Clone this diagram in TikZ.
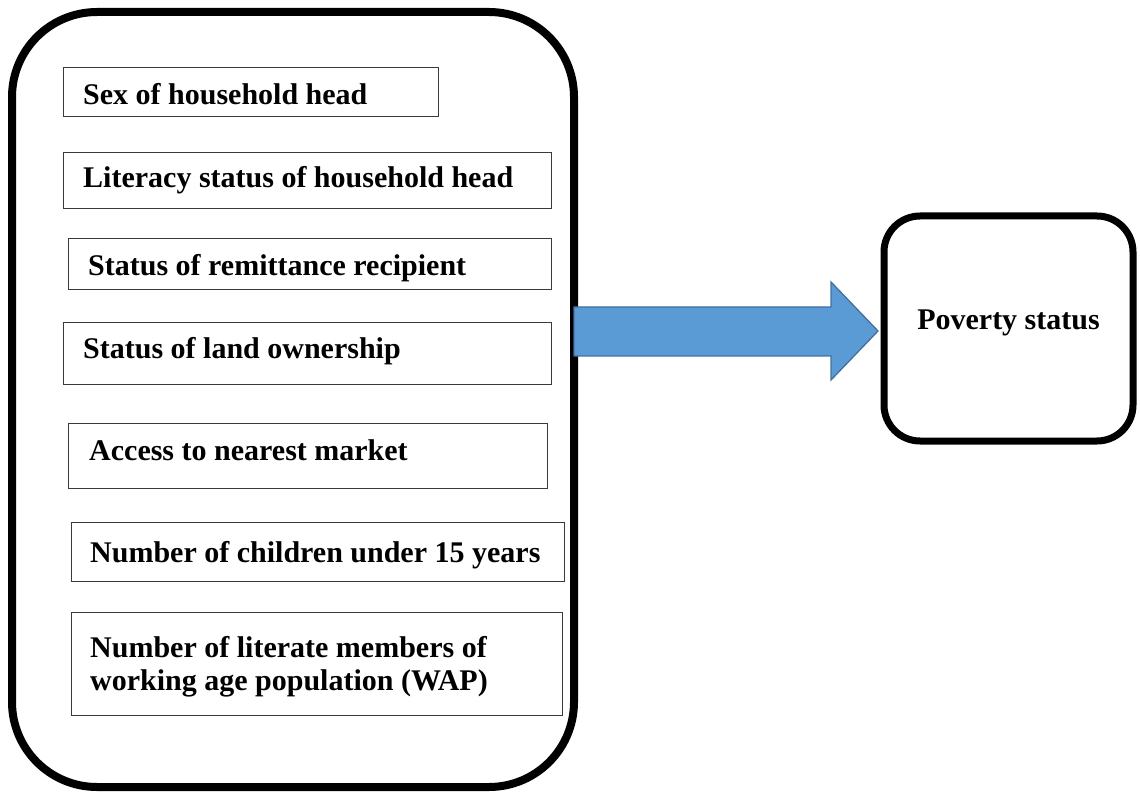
\documentclass[tikz,border=0pt]{standalone}
\usepackage{fontspec}
\setmainfont{Liberation Serif}
\usetikzlibrary{calc}
\definecolor{arrowfill}{HTML}{5B9BD5}
\definecolor{arrowline}{HTML}{41719C}
\definecolor{boxline}{HTML}{3A3A3A}
\begin{document}
\begin{tikzpicture}[x=1pt,y=-1pt,
  outerbox/.style={draw=black,line width=8pt,rounded corners=85pt},
  povbox/.style={draw=black,line width=7pt,rounded corners=36pt},
  ibox/.style={draw=boxline,line width=1.3pt,inner sep=0pt,anchor=north west},
  lbl/.style={inner sep=0pt,anchor=base west,font=\fontsize{30}{34}\selectfont\bfseries},
  blockarrow/.style={fill=arrowfill,draw=arrowline,line width=1.3pt,line join=miter}]
\useasboundingbox (0,0) rectangle (1140,799);
% outer container
\draw[outerbox] (12,12) rectangle (574,787);
\coordinate (bigE) at (574,331);
% inner boxes
\node[ibox,minimum width=375pt,minimum height=49pt] (b1) at (63,67) {};
\node[ibox,minimum width=488pt,minimum height=56pt] (b2) at (63,152) {};
\node[ibox,minimum width=483pt,minimum height=51pt] (b3) at (68,238) {};
\node[ibox,minimum width=488pt,minimum height=62pt] (b4) at (63,322) {};
\node[ibox,minimum width=479pt,minimum height=65pt] (b5) at (68,423) {};
\node[ibox,minimum width=493pt,minimum height=59pt] (b6) at (71,522) {};
\node[ibox,minimum width=491pt,minimum height=103pt] (b7) at (71,612) {};
\node[lbl] (t1) at (83,105) {Sex of household head};
\node[lbl] (t2) at (83,188) {Literacy status of household head};
\node[lbl] (t3) at (88,276) {Status of remittance recipient};
\node[lbl] (t4) at (83,359) {Status of land ownership};
\node[lbl] (t5) at (89,460) {Access to nearest market};
\node[lbl] (t6) at (90,562) {Number of children under 15 years};
\node[lbl] (t7a) at (90,657) {Number of literate members of};
\node[lbl] (t7b) at (90,690) {working age population (WAP)};
% poverty box
\draw[povbox] (884,216) rectangle (1133,441);
\node[draw=none,minimum width=249pt,minimum height=225pt,anchor=north west] (pov) at (884,216) {};
\node[lbl,anchor=base] (tp) at (1008.5,330) {Poverty status};
% block arrow
\coordinate (tip) at (878,331);
\draw[blockarrow] (bigE |- 0,307) -- (831,307) -- (831,282) -- (tip) -- (831,380) -- (831,356) -- (bigE |- 0,356) -- cycle;
\end{tikzpicture}
\end{document}
